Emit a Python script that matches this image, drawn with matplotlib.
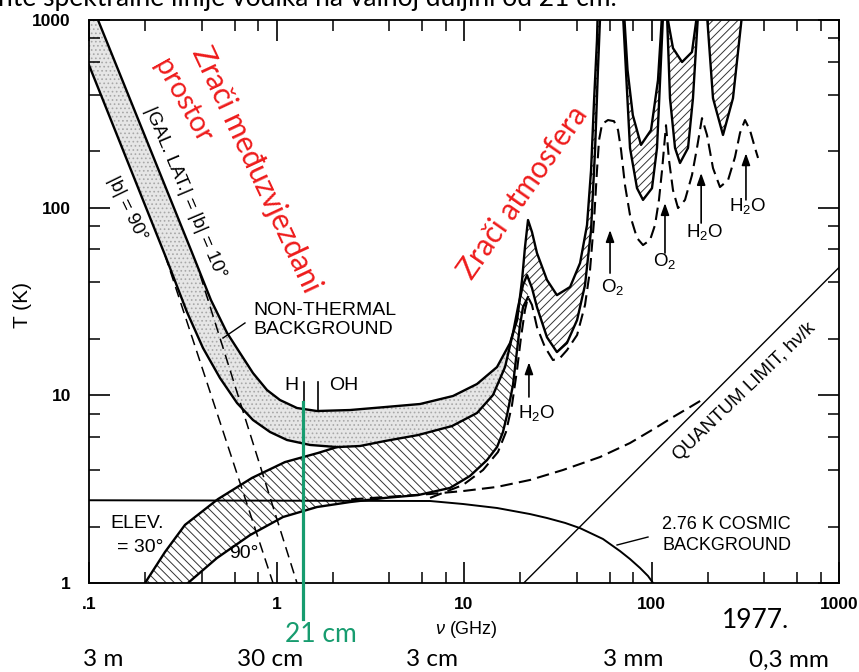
import matplotlib
matplotlib.use("Agg")
import matplotlib.pyplot as plt
from matplotlib.ticker import FixedLocator, FixedFormatter, NullFormatter

plt.rcParams['hatch.linewidth'] = 0.7
plt.rcParams['mathtext.fontset'] = 'custom'
plt.rcParams['mathtext.rm'] = 'Liberation Sans'
plt.rcParams['mathtext.it'] = 'Liberation Sans:italic'
plt.rcParams['mathtext.bf'] = 'Liberation Sans:bold'

FIG_FONT = ['Liberation Sans', 'DejaVu Sans']
SLIDE_FONT = ['Lato', 'DejaVu Sans']
RED = '#ee1c1c'
GREEN = '#179c6f'

# ---------------- data (frequency in GHz, temperature in K) ----------------
# non-thermal background, |b| = 10 deg (upper edge), continues through atmospheric lines
nu_gal10 = [0.1117, 0.35, 0.447, 0.545, 0.639, 0.749, 0.890, 1.044, 1.286, 1.644, 2.466,
            3.79, 5.83, 8.74, 11.73, 15.0, 17.6, 19.2, 20.4, 21.15, 21.95, 23.05, 24.5,
            27.7, 31.3, 36.8, 41.6, 45.3, 47.6, 49.4, 51.2, 52.5, 58.0, 64.0, 71.5, 74.5,
            79.5, 87.9, 99.4, 108.3, 113.8, 116.6, 121.0, 130.2, 145.5, 164.4, 174.8,
            181.4, 1000.0]
T_gal10 = [1000, 59.4, 32.2, 21.5, 16.8, 13.15, 10.67, 9.44, 8.56, 8.25, 8.35,
           8.66, 8.99, 9.92, 11.49, 14.15, 19.0, 25.2, 41.2, 61.7, 85.9, 74.1, 57.3,
           41.2, 34.2, 37.8, 50.7, 80.8, 158, 374, 782, 2000, 3000, 3000, 1062, 541,
           311, 216, 259, 478, 1062, 3000, 1062, 708, 597, 675, 1062,
           3000, 3000]

# non-thermal background, |b| = 90 deg (lower edge), continues as middle atmospheric curve
nu_gal90 = [0.1, 0.2543, 0.333, 0.4055, 0.4995, 0.616, 0.749, 0.923, 1.138, 1.509, 2.102,
            2.788, 3.79, 5.68, 8.63, 11.73, 14.28, 16.55, 18.25, 19.41, 20.64, 21.68,
            23.05, 24.5, 27.7, 31.3, 35.4, 40.1, 44.2, 47.6, 50.0, 51.8, 53.1, 59.0,
            67.9, 70.5, 76.8, 83.7, 90.1, 100.6, 107.0, 111.0, 115.2, 118.7, 121.0,
            125.5, 133.5, 141.9, 156.6, 166.4, 177.0, 183.3, 197.7, 212.8, 240.6,
            272.0, 303.9, 325.0, 1000.0]
T_gal90 = [575, 55.9, 27.8, 17.87, 12.37, 9.10, 7.39, 6.38, 5.78, 5.44, 5.30,
           5.37, 5.71, 6.14, 6.86, 8.05, 10.04, 14.15, 21.5, 29.5, 38.7, 43.7,
           37.3, 29.5, 20.4, 17.0, 19.0, 25.2, 38.7, 76.0, 203, 541, 1000, 3000,
           3000, 1062, 208, 127, 110, 127, 208, 467, 1062, 3000, 1062,
           383, 208, 173, 208, 383, 1062, 3000, 1062, 383, 244,
           383, 1062, 3000, 3000]

# atmosphere, elevation 30 deg (upper hatched edge) until it joins the curve above
nu_elev30 = [0.199, 0.2543, 0.325, 0.4875, 0.740, 1.110, 1.664, 2.102]
T_elev30 = [1.0, 1.463, 2.04, 2.80, 3.63, 4.41, 4.93, 5.30]

# atmosphere, elevation 90 deg (lower hatched edge)
nu_elev90 = [0.3373, 0.4815, 0.7224, 1.083, 1.644, 2.466, 3.79, 5.68, 8.42, 10.77, 13.27,
             15.0, 16.14, 16.96, 18.25, 19.18, 19.9, 20.64, 21.95]
T_elev90 = [1.0, 1.359, 1.80, 2.247, 2.54, 2.70, 2.84, 2.94, 3.21, 3.72, 4.52,
            5.30, 6.38, 7.85, 11.35, 17.4, 23.7, 29.5, 33.4]

# dashed atmospheric curve
nu_atm_dash = [6.59, 9.88, 12.63, 15.18, 16.75, 18.03, 19.18, 20.14, 21.15, 21.95, 23.05,
               24.5, 27.0, 29.8, 32.5, 35.4, 40.1, 44.2, 47.0, 49.4, 51.2, 52.5, 54.5,
               58.6, 63.1, 66.3, 68.8, 72.2, 76.8, 83.7, 90.1, 98.2, 104.4, 109.6, 113.8,
               119.5, 124.0, 130.2, 138.5, 150.9, 164.4, 174.8, 185.9, 197.7, 212.8,
               231.8, 255.9, 278.8, 296.5, 315.2, 335.0, 356.5, 370.0]
T_atm_dash = [2.84, 3.33, 4.00, 4.99, 6.38, 8.88, 13.64, 20.4, 28.5, 33.4, 30.3,
              23.1, 18.1, 15.42, 15.8, 17.4, 20.96, 30.3, 46.5, 85.9, 158, 229, 279,
              293, 289, 259, 203, 132, 91.3, 68.9, 63.2, 67.2, 80.8, 110, 158,
              275, 179, 124, 99.5, 110, 149, 208, 300, 244, 162.5,
              128.8, 140, 186, 250, 293, 259, 208, 184]

# 2.76 K cosmic background
nu_cmb = [0.1, 6.59, 9.88, 15.0, 22.5, 27.7, 34.6, 41.6, 55.1, 67.9, 76.8, 86.9, 95.8, 101.9]
T_cmb = [2.76, 2.735, 2.636, 2.51, 2.33, 2.22, 2.09, 1.96, 1.716, 1.48, 1.342, 1.202, 1.09, 1.0]

# dashed curve joining the quantum limit
nu_cmb_q = [2.5, 3.79, 6.59, 9.88, 15.0, 22.5, 33.7, 53.1, 76.8, 107.0, 130.2, 160.5, 192.9]
T_cmb_q = [2.79, 2.87, 2.98, 3.09, 3.25, 3.54, 4.00, 4.69, 5.57, 6.78, 7.66, 8.66, 9.67]

# quantum limit h nu / k
nu_quantum = [20.83, 1000.0]
T_quantum = [1.0, 48.0]

# pure non-thermal power laws (dashed)
nu_pl90 = [0.2543, 0.958]
T_pl90 = [55.9, 1.0]
nu_pl10 = [0.391, 1.286]
T_pl10 = [44.0, 1.0]

# spectral line markers
nu_H, nu_OH = 1.40, 1.67
T_H = [9.3, 11.8]
T_OH = [8.25, 11.8]
nu_21cm = 1.39
T_21cm = [9.2, 0.643]

arrow_nu = [22.2, 60.1, 118.0, 184.0, 319.0]
arrow_T_tail = [9.8, 44.8, 57.3, 82.8, 110.0]
arrow_T_head = [15.0, 76.0, 105.8, 153.0, 195.0]
arrow_labels = ['H$_2$O', 'O$_2$', 'O$_2$', 'H$_2$O', 'H$_2$O']
arrow_label_px = [(537, 413), (613, 287), (665, 261), (705, 232), (748, 206)]

leader_nt_nu = [0.5185, 0.679]
leader_nt_T = [20.2, 24.3]
leader_cmb_nu = [65.5, 95.8]
leader_cmb_T = [1.594, 1.758]

x_major = [0.1, 1, 10, 100, 1000]
x_major_labels = ['.1', '1', '10', '100', '1000']
y_major = [1, 10, 100, 1000]
y_major_labels = ['1', '10', '100', '1000']
minor_mult = [2, 4, 6, 8]

wavelength_labels = ['3 m', '30 cm', '3 cm', '3 mm', '0,3 mm']
wavelength_px = [103, 270, 432, 633, 789]

# ---------------- figure ----------------
W, H = 859, 672
fig = plt.figure(figsize=(W / 100, H / 100), dpi=100)
fig.patch.set_facecolor('white')
L, R, T, B = 89, 839, 20, 583
ax = fig.add_axes([L / W, 1 - B / H, (R - L) / W, (B - T) / H])


def fpx(px, py):
    return px / W, 1 - py / H


ax.set_xscale('log')
ax.set_yscale('log')
ax.set_xlim(0.1, 1000)
ax.set_ylim(1, 1000)

# fills
stip_x = [0.1] + nu_gal10[:17] + nu_gal90[17::-1]
stip_y = [1000] + T_gal10[:17] + T_gal90[17::-1]
ax.fill(stip_x, stip_y, facecolor='#e6e6e6', edgecolor='#a8a8a8', hatch='....', linewidth=0, zorder=1)

hat_hi_x = nu_gal10[16:] + nu_gal90[:16:-1]
hat_hi_y = T_gal10[16:] + T_gal90[:16:-1]
ax.fill(hat_hi_x, hat_hi_y, facecolor='white', edgecolor='#333333', hatch='////', linewidth=0, zorder=1)

hat_lo_x = nu_elev30 + nu_gal90[11:22] + nu_elev90[::-1]
hat_lo_y = T_elev30 + T_gal90[11:22] + T_elev90[::-1]
ax.fill(hat_lo_x, hat_lo_y, facecolor='white', edgecolor='#333333', hatch='\\\\\\\\', linewidth=0, zorder=1)

lw_main = 1.7
ax.plot(nu_gal10, T_gal10, color='k', lw=lw_main, zorder=4)
ax.plot(nu_gal90, T_gal90, color='k', lw=lw_main, zorder=4)
ax.plot(nu_elev30, T_elev30, color='k', lw=lw_main, zorder=4)
ax.plot(nu_elev90, T_elev90, color='k', lw=lw_main, zorder=4)
ax.plot(nu_atm_dash, T_atm_dash, color='k', lw=1.5, dashes=(6, 3), zorder=4)
ax.plot(nu_cmb, T_cmb, color='k', lw=1.4, zorder=4)
ax.plot(nu_cmb_q, T_cmb_q, color='k', lw=1.5, dashes=(6, 3), zorder=4)
ax.plot(nu_quantum, T_quantum, color='k', lw=1.0, zorder=4)
ax.plot(nu_pl90, T_pl90, color='k', lw=1.1, dashes=(7, 4), zorder=4)
ax.plot(nu_pl10, T_pl10, color='k', lw=1.1, dashes=(7, 4), zorder=4)

ax.plot([nu_H, nu_H], T_H, color='k', lw=1.2, zorder=4)
ax.plot([nu_OH, nu_OH], T_OH, color='k', lw=1.2, zorder=4)
ax.plot([nu_21cm, nu_21cm], T_21cm, color=GREEN, lw=2.3, zorder=6, clip_on=False)

ax.plot(leader_nt_nu, leader_nt_T, color='k', lw=1.0, zorder=4)
ax.plot(leader_cmb_nu, leader_cmb_T, color='k', lw=1.0, zorder=4)

for nu, t0, t1 in zip(arrow_nu, arrow_T_tail, arrow_T_head):
    ax.annotate('', xy=(nu, t1), xytext=(nu, t0),
                arrowprops=dict(arrowstyle='-|>,head_length=0.7,head_width=0.25',
                                color='k', lw=1.2, shrinkA=0, shrinkB=0), zorder=5)

for lab, (px, py) in zip(arrow_labels, arrow_label_px):
    fig.text(*fpx(px, py), lab, ha='center', va='center', fontsize=13.5, family=FIG_FONT)

# axis ticks
ax.xaxis.set_major_locator(FixedLocator(x_major))
ax.xaxis.set_major_formatter(FixedFormatter(x_major_labels))
ax.xaxis.set_minor_locator(FixedLocator([m * d for d in [0.1, 1, 10, 100] for m in minor_mult]))
ax.xaxis.set_minor_formatter(NullFormatter())
ax.yaxis.set_major_locator(FixedLocator(y_major))
ax.yaxis.set_major_formatter(FixedFormatter(y_major_labels))
ax.yaxis.set_minor_locator(FixedLocator([m * d for d in [1, 10, 100] for m in minor_mult]))
ax.yaxis.set_minor_formatter(NullFormatter())
ax.tick_params(which='both', direction='in', top=True, right=True, colors='k')
ax.tick_params(which='major', length=15, width=1.2)
ax.tick_params(which='minor', length=8, width=1.1)
ax.tick_params(axis='x', which='major', pad=10)
ax.tick_params(axis='y', which='major', pad=13)
for lab in ax.get_xticklabels() + ax.get_yticklabels():
    lab.set_fontfamily(FIG_FONT)
    lab.set_fontsize(12.5)
    lab.set_fontweight('bold')
for s in ax.spines.values():
    s.set_linewidth(1.3)

fig.text(*fpx(23, 305), 'T (K)', rotation=90, ha='center', va='center', fontsize=15, family=FIG_FONT)
fig.text(*fpx(466, 630), r'$\nu$ (GHz)', ha='center', va='center', fontsize=13, family=FIG_FONT)

# in-plot labels of the original figure
fig.text(*fpx(185, 193), '|GAL. LAT.| = |b| = 10°', rotation=-67, ha='center', va='center',
         fontsize=13.5, family=FIG_FONT, rotation_mode='anchor')
fig.text(*fpx(127, 209), '|b| = 90°', rotation=-64, ha='center', va='center',
         fontsize=13.5, family=FIG_FONT, rotation_mode='anchor')
fig.text(*fpx(253, 320), 'NON-THERMAL\nBACKGROUND', ha='left', va='center', fontsize=14,
         family=FIG_FONT, linespacing=1.2)
fig.text(*fpx(291, 385), 'H', ha='center', va='center', fontsize=14, family=FIG_FONT)
fig.text(*fpx(344, 385), 'OH', ha='center', va='center', fontsize=14, family=FIG_FONT)
fig.text(*fpx(110, 524), 'ELEV.', ha='left', va='center', fontsize=14, family=FIG_FONT)
fig.text(*fpx(117, 547), '= 30°', ha='left', va='center', fontsize=14, family=FIG_FONT)
fig.text(*fpx(244, 554), '90°', ha='center', va='center', fontsize=14, family=FIG_FONT)
fig.text(*fpx(662, 535), '2.76 K COSMIC\nBACKGROUND', ha='left', va='center', fontsize=13,
         family=FIG_FONT, linespacing=1.25)
fig.text(*fpx(745, 392), 'QUANTUM LIMIT, hν/k', rotation=44, ha='center', va='center',
         fontsize=13.5, family=FIG_FONT, rotation_mode='anchor')

# slide annotations
fig.text(*fpx(256, 169), 'Zrači međuzvjezdani', rotation=-65, ha='center', va='center',
         fontsize=21.5, color=RED, family=SLIDE_FONT, rotation_mode='anchor')
fig.text(*fpx(183, 101), 'prostor', rotation=-61, ha='center', va='center',
         fontsize=20.5, color=RED, family=SLIDE_FONT, rotation_mode='anchor')
fig.text(*fpx(523, 193), 'Zrači atmosfera', rotation=55, ha='center', va='center',
         fontsize=21.3, color=RED, family=SLIDE_FONT, rotation_mode='anchor')
fig.text(*fpx(321, 634), '21 cm', ha='center', va='center', fontsize=19, color=GREEN, family=SLIDE_FONT)
fig.text(*fpx(756, 620), '1977.', ha='center', va='center', fontsize=19, color='k', family=SLIDE_FONT)
for lab, px in zip(wavelength_labels, wavelength_px):
    fig.text(*fpx(px, 660), lab, ha='center', va='center', fontsize=17.5, color='k', family=SLIDE_FONT)
fig.text(*fpx(-2, 6), 'nte spektralne linije vodika na valnoj duljini od 21 cm.', ha='left',
         va='baseline', fontsize=19, color='k', family=SLIDE_FONT)

fig.savefig('out.png', dpi=100, facecolor='white')
